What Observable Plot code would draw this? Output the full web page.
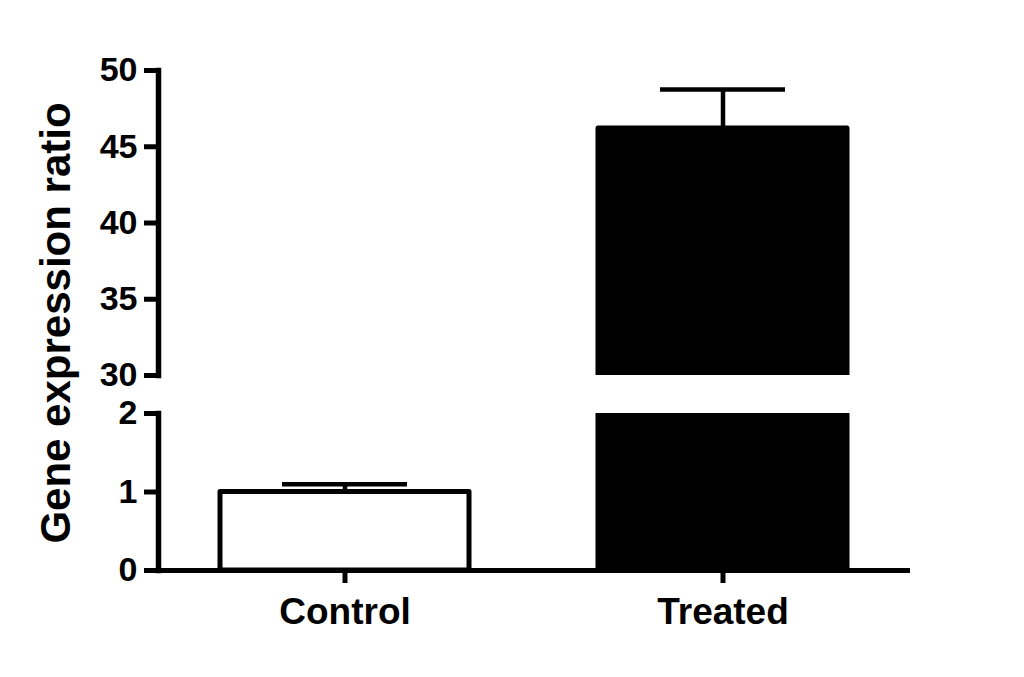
<!DOCTYPE html>
<html><head><meta charset="utf-8">
<script src="https://cdn.jsdelivr.net/npm/d3@7"></script>
<script src="https://cdn.jsdelivr.net/npm/@observablehq/plot@0.6"></script>
<style>
html,body{margin:0;padding:0;background:#fff;}
#wrap{position:relative;width:1024px;height:677px;background:#fff;font-family:"Liberation Sans",Arial,sans-serif;color:#000;overflow:hidden;}
#wrap svg{position:absolute;left:0;top:0;background:transparent !important;}
#wrap svg text{font-weight:bold;}
#ylab{position:absolute;left:56px;top:323px;transform:translate(-50%,-50%) rotate(-90deg);white-space:nowrap;font-weight:bold;font-size:42px;line-height:1;}
</style></head><body>
<div id="wrap"><div id="ylab">Gene expression ratio</div></div>
<script>
const groups = ["Control", "Treated"];
const means = [1.0, 46.2];
const errors = [0.1, 2.55];
const fills = ["white", "black"];
const upperTicks = [30, 35, 40, 45, 50];
const lowerTicks = [0, 1, 2];

const data = groups.map((g, i) => ({group: g, mean: means[i], hi: means[i] + errors[i], fill: fills[i]}));

const xOpts = {domain: groups, paddingInner: 0.34, paddingOuter: 0.163};
const W = 1024, H = 677, ML = 158, MR = 114;
const baseStyle = {background: "transparent", color: "black", fontFamily: "Liberation Sans, Arial, sans-serif", overflow: "visible"};

function barMarks() {
  return [
    Plot.barY(data, {x: "group", y: "mean", fill: "fill", stroke: "black", strokeWidth: 5, strokeLinejoin: "round", clip: true}),
    Plot.ruleX(data, {x: "group", y1: "mean", y2: "hi", stroke: "black", strokeWidth: 4.5, clip: true}),
    Plot.tickY(data, {x: "group", y: "hi", stroke: "black", strokeWidth: 4.5, inset: 62, clip: true})
  ];
}

const upperPanel = Plot.plot({
  width: W, height: H,
  marginLeft: ML, marginRight: MR, marginTop: 70, marginBottom: H - 375,
  style: baseStyle,
  x: {...xOpts, axis: null},
  y: {domain: [30, 50], axis: null},
  color: {type: "identity"},
  marks: [
    ...barMarks(),
    Plot.frame({anchor: "left", stroke: "black", strokeWidth: 5.5}),
    Plot.axisY({ticks: upperTicks, tickSize: 14, tickPadding: 7, strokeWidth: 5, fontSize: 34, label: null})
  ]
});

const lowerPanel = Plot.plot({
  width: W, height: H,
  marginLeft: ML, marginRight: MR, marginTop: 413, marginBottom: H - 570,
  style: baseStyle,
  x: {...xOpts, axis: null},
  y: {domain: [0, 2], axis: null},
  color: {type: "identity"},
  marks: [
    ...barMarks(),
    Plot.frame({anchor: "left", stroke: "black", strokeWidth: 5.5}),
    Plot.ruleY([0], {stroke: "black", strokeWidth: 5}),
    Plot.axisY({ticks: lowerTicks, tickSize: 14, tickPadding: 7, strokeWidth: 5, fontSize: 34, label: null, tickFormat: d3.format("d")}),
    Plot.axisX({tickSize: 13, tickPadding: 14, strokeWidth: 5, fontSize: 37, label: null})
  ]
});

const wrap = document.getElementById("wrap");
wrap.appendChild(upperPanel);
wrap.appendChild(lowerPanel);

// enforce heavy axis strokes like the reference
d3.selectAll("#wrap svg g[aria-label='frame'], #wrap svg g[aria-label='frame'] *")
  .attr("stroke-width", 5.5).style("stroke-width", "5.5px");
d3.selectAll("#wrap svg g[aria-label='y-axis tick'], #wrap svg g[aria-label='y-axis tick'] *, #wrap svg g[aria-label='x-axis tick'], #wrap svg g[aria-label='x-axis tick'] *")
  .attr("stroke-width", 5).style("stroke-width", "5px");
</script>
</body></html>
